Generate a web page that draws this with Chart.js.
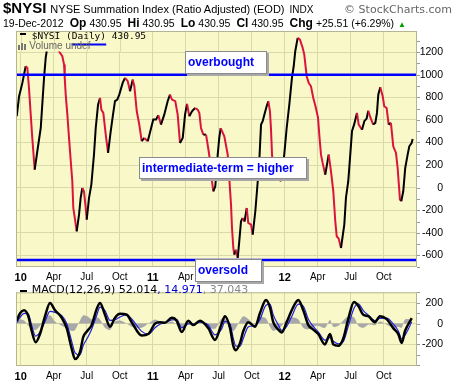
<!DOCTYPE html>
<html><head><meta charset="utf-8">
<script src="https://cdn.jsdelivr.net/npm/chart.js@4.4.1/dist/chart.umd.min.js"></script>
<style>
html,body{margin:0;padding:0;background:#fff;}
#wrap{position:relative;width:460px;height:383px;overflow:hidden;font-family:"Liberation Sans",Arial,sans-serif;color:#000;}
canvas{position:absolute;left:0;}
.t{position:absolute;white-space:nowrap;line-height:1;}
.row{position:absolute;white-space:nowrap;line-height:14px;height:14px;}
.row span{display:inline-block;vertical-align:baseline;}
.lb{font-weight:bold;font-size:12px;margin-left:6px;margin-right:3px;}
.nv{font-size:10.5px;}
.note{position:absolute;box-sizing:border-box;background:#fff;border:1px solid #8a8a8a;box-shadow:2px 2px 0 #a8a8a8;color:#0000ff;font:bold 12px "Liberation Sans",Arial,sans-serif;padding-left:2px;white-space:nowrap;}
.bar{position:absolute;background:#000;}
</style></head>
<body><div id="wrap">
<canvas id="main" width="460" height="286" style="top:0"></canvas>
<canvas id="macd" width="460" height="102" style="top:281px"></canvas>

<div class="row" style="left:3px;top:1px;"><span style="font-weight:bold;font-size:15px;">$NYSI</span><span style="font-size:11px;margin-left:4px;">NYSE Summation Index (Ratio Adjusted) (EOD)</span><span style="font-size:10px;margin-left:5px;">INDX</span></div>
<div class="t" style="right:8px;top:3.5px;font-family:'DejaVu Sans',sans-serif;font-size:11px;color:#666;">© StockCharts.com</div>

<div class="row" style="left:3px;top:15px;"><span style="font-size:10.5px;">19-Dec-2012</span><span class="lb">Op</span><span class="nv">430.95</span><span class="lb">Hi</span><span class="nv">430.95</span><span class="lb">Lo</span><span class="nv">430.95</span><span class="lb">Cl</span><span class="nv">430.95</span><span class="lb">Chg</span><span class="nv">+25.51 (+6.29%)</span><span style="font-size:8px;color:#009900;margin-left:4px;">▲</span></div>

<div class="bar" style="left:20px;top:33px;width:6px;height:2px;"></div>
<div class="t" style="left:31.7px;top:31.4px;font-family:'DejaVu Sans Mono',monospace;font-size:9.5px;">$NYSI (Daily) 430.95</div>
<div class="bar" style="left:18px;top:45px;width:2px;height:5px;background:#777;"></div>
<div class="bar" style="left:21px;top:43px;width:2px;height:7px;background:#777;"></div>
<div class="bar" style="left:24px;top:44px;width:2px;height:6px;background:#777;"></div>
<div class="t" style="left:29.3px;top:41.2px;font-size:10px;color:#666;">Volume undef</div>

<div class="bar" style="left:20px;top:290px;width:7px;height:2px;"></div>
<div class="t" style="left:31.7px;top:284px;font-family:'DejaVu Sans',sans-serif;font-size:11px;">MACD(12,26,9) 52.014<span style="color:#0000cc">, 14.971</span><span style="color:#888">, 37.043</span></div>

<div class="note" style="left:185px;top:51px;width:82px;height:23px;line-height:21px;">overbought</div>
<div class="note" style="left:139px;top:156.5px;width:167.5px;height:22px;line-height:20px;">intermediate-term = higher</div>
<div class="note" style="left:195px;top:259px;width:67px;height:23px;line-height:21px;">oversold</div>
</div>
<script>
// ---- DATA (x in months since 1-Jan-2010) ----
const quarterTicks = [0, 3, 6, 9, 12, 15, 18, 21, 24, 27, 30, 33];
const quarterLabels = ['10', 'Apr', 'Jul', 'Oct', '11', 'Apr', 'Jul', 'Oct', '12', 'Apr', 'Jul', 'Oct'];
const yearLabels = ['10', '11', '12'];

const nysiMonths = [-0.36,-0.15,0,0.15,0.45,0.6,0.75,0.91,1.05,1.27,1.51,1.82,2.12,2.27,2.44,2.66,2.94,3.21,3.48,3.78,3.94,4.0,4.09,4.24,4.39,4.55,4.69,4.78,4.94,5.09,5.3,5.45,5.6,5.75,5.91,6.0,6.21,6.42,6.66,6.82,7.03,7.21,7.33,7.51,7.73,7.94,8.18,8.39,8.57,8.78,8.96,9.27,9.48,9.73,9.94,10.18,10.33,10.55,10.78,11.0,11.24,11.55,11.78,12.05,12.3,12.51,12.75,13.05,13.36,13.57,13.75,14.05,14.27,14.48,14.73,14.94,15.12,15.33,15.57,15.85,16.09,16.24,16.39,16.6,16.85,17.09,17.3,17.39,17.51,17.69,17.91,18.05,18.18,18.51,18.82,18.96,19.12,19.21,19.33,19.42,19.57,19.73,19.87,20.03,20.18,20.35,20.55,20.69,20.94,21.09,21.33,21.55,21.69,21.85,22.0,22.15,22.36,22.51,22.66,22.75,22.85,22.96,23.21,23.51,23.66,23.82,23.96,24.18,24.42,24.66,24.82,24.96,25.18,25.39,25.64,25.78,26.0,26.18,26.39,26.6,26.8,27.03,27.16,27.3,27.45,27.69,28.0,28.21,28.42,28.6,28.73,28.91,29.12,29.42,29.57,29.78,29.94,30.12,30.33,30.57,30.73,31.03,31.24,31.45,31.6,31.78,32.05,32.24,32.39,32.51,32.69,32.91,33.05,33.27,33.45,33.66,33.87,34.12,34.27,34.48,34.6,34.78,34.96,35.18,35.33,35.54,35.64];
const nysiValues = [632,809,867,927,1074,1059,882,646,440,160,322,528,971,1148,1260,1320,1300,1240,1207,1163,1089,971,823,646,440,234,57,-180,-283,-386,-239,-91,-3,-32,-180,-283,-91,27,292,528,735,794,690,661,469,307,499,646,765,779,823,927,971,942,853,956,897,676,558,411,440,411,499,602,602,641,558,646,765,823,779,765,646,396,440,646,741,632,676,705,690,661,528,469,469,322,174,57,-32,12,292,440,526,455,292,86,-150,-357,-534,-593,-549,-622,-475,-297,-268,-300,-180,-312,-327,-416,-209,57,234,558,588,646,720,765,676,528,292,115,90,71,57,174,292,528,735,971,1074,1207,1325,1310,1236,1177,986,927,897,794,720,620,450,292,219,115,292,145,-32,-297,-430,-451,-534,-327,-91,57,263,499,564,661,558,513,588,611,681,623,558,573,661,823,888,809,720,705,558,573,366,307,174,-106,-120,-32,174,292,366,395,430.95];
const overboughtLevel = 1000;
const oversoldLevel = -640;

const macdMonths = [-0.36,-0.06,0.3,0.69,1.0,1.36,1.75,2.21,2.66,3.12,3.73,4.18,4.64,4.94,5.39,5.69,6.05,6.45,6.91,7.21,7.66,8.12,8.57,9.03,9.64,10.09,11.0,11.6,12.21,12.66,13.12,13.73,14.18,14.64,15.24,15.69,16.3,17.05,17.66,18.27,18.57,19.03,19.33,19.57,19.94,20.24,20.69,21.3,21.75,22.3,22.66,22.96,23.42,23.73,24.18,24.64,25.24,25.69,26.15,26.6,27.05,27.66,28.12,28.42,28.87,29.33,29.78,30.3,30.69,31.15,31.6,32.21,32.66,33.27,33.87,34.33,34.64,34.94,35.55];
const macdValues = [28,99,128,71,-71,-179,-100,71,198,128,56,-43,-242,-340,-270,-128,-71,-14,141,198,85,-29,56,94,85,14,-114,-100,0,14,9,56,28,-80,28,-14,28,-43,-157,0,71,-43,-213,-255,-185,-71,14,-29,99,226,156,14,-57,-85,14,128,226,128,-14,-57,-100,-199,-100,-199,-213,-142,43,207,170,85,71,14,71,43,-43,-100,-185,-71,52.014];
const signalValues = [8,59,98,91,-21,-119,-80,21,118,108,76,2,-172,-280,-300,-208,-141,-54,81,158,125,31,36,64,85,44,-74,-100,-40,-6,9,36,38,-40,-2,-4,13,-13,-107,-50,21,-3,-143,-215,-215,-141,-31,-19,39,176,186,84,-12,-65,-26,68,186,168,41,-27,-80,-159,-135,-169,-193,-172,-27,147,190,125,81,29,51,53,-3,-70,-145,-111,14.971];
const histValues = [20,40,30,-20,-50,-60,-20,50,80,20,-20,-45,-70,-60,30,80,70,40,60,40,-40,-60,20,30,0,-30,-40,0,40,20,0,20,-10,-40,30,-10,15,-30,-50,50,50,-40,-70,-40,30,70,45,-10,60,50,-30,-70,-45,-20,40,60,40,-40,-55,-30,-20,-40,35,-30,-20,30,70,60,-20,-40,-10,-15,20,-10,-40,-30,-40,40,37.043];
const macdTicks = [-200, 0, 200];

// ---- STYLE ----
const BG = '#f8f8c8', GRID = '#d9d9a9', BORDER = '#b5b58f';
const RED = '#dc143c';
const pts = (xs, ys) => xs.map((x, i) => ({x, y: ys[i]}));

const panelPlugin = {
  id: 'panel',
  beforeDraw(chart, args, o) {
    const {ctx, chartArea: a} = chart;
    ctx.save();
    ctx.fillStyle = o.bg;
    ctx.fillRect(a.left, a.top, a.right - a.left, a.bottom - a.top);
    ctx.restore();
  },
  afterDatasetsDraw(chart, args, o) {
    const {ctx, chartArea: a, scales: {x, y}} = chart;
    ctx.save();
    if (o.cover) {
      const c = o.cover;
      ctx.fillStyle = o.bg;
      ctx.fillRect(c.x, c.y, c.w, c.h);
      ctx.strokeStyle = GRID; ctx.lineWidth = 1;
      x.ticks.forEach(t => {
        const px = Math.round(x.getPixelForValue(t.value)) + 0.5;
        if (px > c.x && px < c.x + c.w) { ctx.beginPath(); ctx.moveTo(px, c.y); ctx.lineTo(px, c.y + c.h); ctx.stroke(); }
      });
    }
    (o.levels || []).forEach(v => {
      const py = y.getPixelForValue(v);
      ctx.strokeStyle = '#0000ff'; ctx.lineWidth = 2.5;
      ctx.beginPath(); ctx.moveTo(a.left, py); ctx.lineTo(a.right, py); ctx.stroke();
    });
    if (o.mark) {
      ctx.fillStyle = '#0000ff';
      ctx.fillRect(o.mark.x, o.mark.y, o.mark.w, 2);
    }
    ctx.strokeStyle = BORDER; ctx.lineWidth = 1;
    ctx.strokeRect(a.left + 0.5, a.top + 0.5, a.right - a.left - 1, a.bottom - a.top - 1);
    ctx.strokeStyle = '#999';
    for (let v = Math.ceil(y.min / o.minor) * o.minor; v <= y.max; v += o.minor) {
      const py = Math.round(y.getPixelForValue(v)) + 0.5;
      ctx.beginPath(); ctx.moveTo(a.right, py); ctx.lineTo(a.right + 3, py); ctx.stroke();
    }
    ctx.restore();
  }
};

const xScale = (h) => ({
  type: 'linear', min: -0.43, max: 36.03,
  afterBuildTicks: s => { s.ticks = quarterTicks.map(v => ({value: v})); },
  afterFit: s => { s.height = h; },
  grid: {color: GRID, drawTicks: false},
  border: {display: false},
  ticks: {
    padding: 4, autoSkip: false, maxRotation: 0, color: '#000',
    callback: (v, i) => quarterLabels[i],
    font: c => yearLabels.includes(quarterLabels[c.index])
      ? {family: 'Liberation Sans', size: 11, weight: 'bold'}
      : {family: 'Liberation Sans', size: 10}
  }
});

const yTickFont = {family: 'Liberation Sans', size: 10.5};

new Chart(document.getElementById('main'), {
  type: 'line',
  data: {datasets: [{
    data: pts(nysiMonths, nysiValues),
    borderColor: '#000', borderWidth: 2, pointRadius: 0, tension: 0,
    segment: {borderColor: c => c.p1.parsed.y >= c.p0.parsed.y ? '#000' : RED}
  }]},
  options: {
    responsive: false, animation: false, devicePixelRatio: 1,
    layout: {padding: {left: 16, top: 31, right: 17, bottom: 0}},
    plugins: {legend: {display: false}, tooltip: {enabled: false},
      panel: {bg: BG, levels: [overboughtLevel, oversoldLevel], cover: {x: 17, y: 32, w: 133, h: 19.5}, mark: {x: 71.7, y: 43.5, w: 34.5}, minor: 100}},
    scales: {
      x: xScale(19),
      y: {position: 'right', min: -702, max: 1386,
        afterFit: s => { s.width = 26; },
        grid: {color: GRID, drawTicks: false}, border: {display: false},
        ticks: {stepSize: 200, includeBounds: false, crossAlign: 'far', padding: 3, color: '#000',
          font: yTickFont, callback: v => String(v)}}
    }
  },
  plugins: [panelPlugin]
});

new Chart(document.getElementById('macd'), {
  type: 'line',
  data: {datasets: [
    {data: pts(macdMonths, macdValues), borderColor: '#000', borderWidth: 2.5, pointRadius: 0, cubicInterpolationMode: 'monotone'},
    {data: pts(macdMonths, signalValues), borderColor: '#2020e0', borderWidth: 1.2, pointRadius: 0, cubicInterpolationMode: 'monotone'},
    {data: pts(macdMonths, histValues), borderWidth: 0, borderColor: 'rgba(0,0,0,0)', backgroundColor: '#a8a8a8', fill: 'origin', pointRadius: 0, tension: 0.3}
  ]},
  options: {
    responsive: false, animation: false, devicePixelRatio: 1,
    layout: {padding: {left: 16, top: 2, right: 17, bottom: 0}},
    plugins: {legend: {display: false}, tooltip: {enabled: false}, panel: {bg: BG, minor: 100}},
    scales: {
      x: xScale(17),
      y: {position: 'right', min: -406, max: 300,
        afterBuildTicks: s => { s.ticks = macdTicks.map(v => ({value: v})); },
        afterFit: s => { s.width = 26; },
        grid: {color: GRID, drawTicks: false}, border: {display: false},
        ticks: {crossAlign: 'far', padding: 5, color: '#000', font: yTickFont, callback: v => String(v)}}
    }
  },
  plugins: [panelPlugin]
});
</script>
</body></html>
